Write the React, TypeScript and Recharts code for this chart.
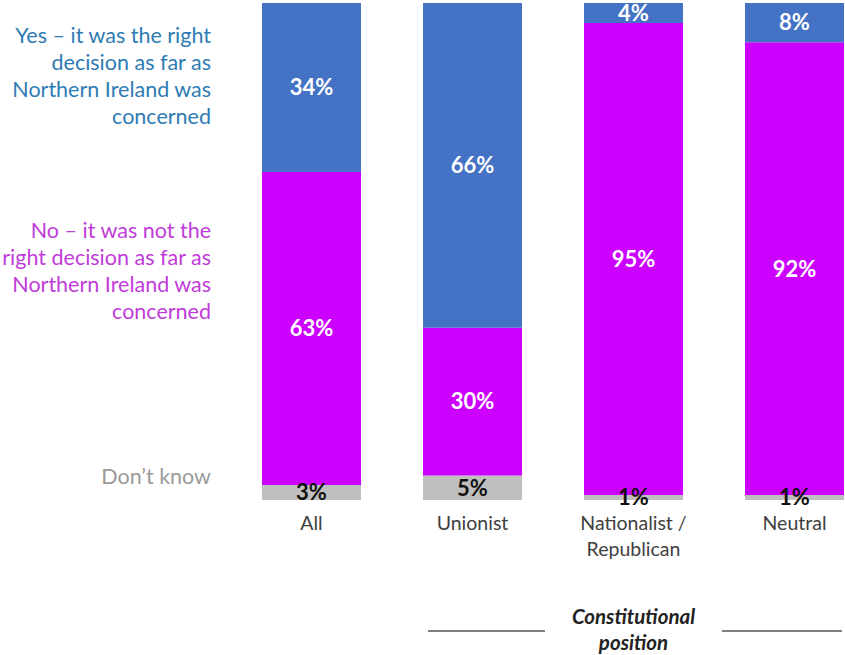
import React from 'react';
import { BarChart, Bar, XAxis, YAxis, LabelList } from 'recharts';

const categories = ['All', 'Unionist', 'Nationalist / Republican', 'Neutral'];
const dontKnow = [3, 5, 1, 1];
const no = [63, 30, 95, 92];
const yes = [34, 66, 4, 8];

const data = categories.map((name, i) => ({ name, dk: dontKnow[i], no: no[i], yes: yes[i] }));

const FONT = 'Lato, "Open Sans", sans-serif';

// splits "Nationalist / Republican" onto two lines like the original
const CategoryTick = (props: any) => {
  const { x, y, payload } = props;
  const label: string = payload.value;
  const lines = label.includes(' / ') ? [label.split(' / ')[0] + ' /', label.split(' / ')[1]] : [label];
  return (
    <text x={x} y={y} textAnchor="middle" fill="#404040" fontSize={19.5} fontFamily={FONT}>
      {lines.map((l, i) => (
        <tspan key={i} x={x} dy={i === 0 ? 22 : 26}>{l}</tspan>
      ))}
    </text>
  );
};

const pct = (v: any) => `${v}%`;

const sideLabel = (top: number, color: string, text: string[]) => (
  <div
    style={{
      position: 'absolute', left: 0, top, width: 211, textAlign: 'right',
      color, fontFamily: FONT, fontSize: 21.5, lineHeight: '27px',
    }}
  >
    {text.map((t, i) => <div key={i}>{t}</div>)}
  </div>
);

export default function App() {
  return (
    <div style={{ position: 'absolute', left: 0, top: 0, width: 845, height: 655, overflow: 'hidden', background: '#fff' }}>
      <BarChart
        width={876}
        height={655}
        data={data}
        stackOffset="expand"
        margin={{ top: 3, right: 1, left: 231, bottom: 0 }}
        barSize={99}
      >
        <XAxis dataKey="name" axisLine={false} tickLine={false} height={155} interval={0} tick={<CategoryTick />} />
        <YAxis hide domain={[0, 1]} />
        <Bar dataKey="dk" stackId="a" fill="#BFBFBF" isAnimationActive={false}>
          <LabelList dataKey="dk" position="center" formatter={pct} fill="#111" fontSize={22} fontWeight={700} fontFamily={FONT} />
        </Bar>
        <Bar dataKey="no" stackId="a" fill="#CC00FF" isAnimationActive={false}>
          <LabelList dataKey="no" position="center" formatter={pct} fill="#fff" fontSize={22} fontWeight={700} fontFamily={FONT} />
        </Bar>
        <Bar dataKey="yes" stackId="a" fill="#4472C4" isAnimationActive={false}>
          <LabelList dataKey="yes" position="center" formatter={pct} fill="#fff" fontSize={22} fontWeight={700} fontFamily={FONT} />
        </Bar>
      </BarChart>

      {sideLabel(22, '#2E7BB4', ['Yes \u2013 it was the right', 'decision as far as', 'Northern Ireland was', 'concerned'])}
      {sideLabel(217, '#C03CD8', ['No \u2013 it was not the', 'right decision as far as', 'Northern Ireland was', 'concerned'])}
      {sideLabel(463, '#999999', ['Don\u2019t know'])}

      <div style={{ position: 'absolute', left: 428, top: 630, width: 117, height: 2, background: '#808080' }} />
      <div style={{ position: 'absolute', left: 722, top: 630, width: 120, height: 2, background: '#808080' }} />
      <div
        style={{
          position: 'absolute', left: 545, top: 603, width: 177, textAlign: 'center',
          fontFamily: FONT, fontSize: 20.5, fontWeight: 700, fontStyle: 'italic', color: '#222', lineHeight: '26px',
        }}
      >
        Constitutional<br />position
      </div>
    </div>
  );
}
